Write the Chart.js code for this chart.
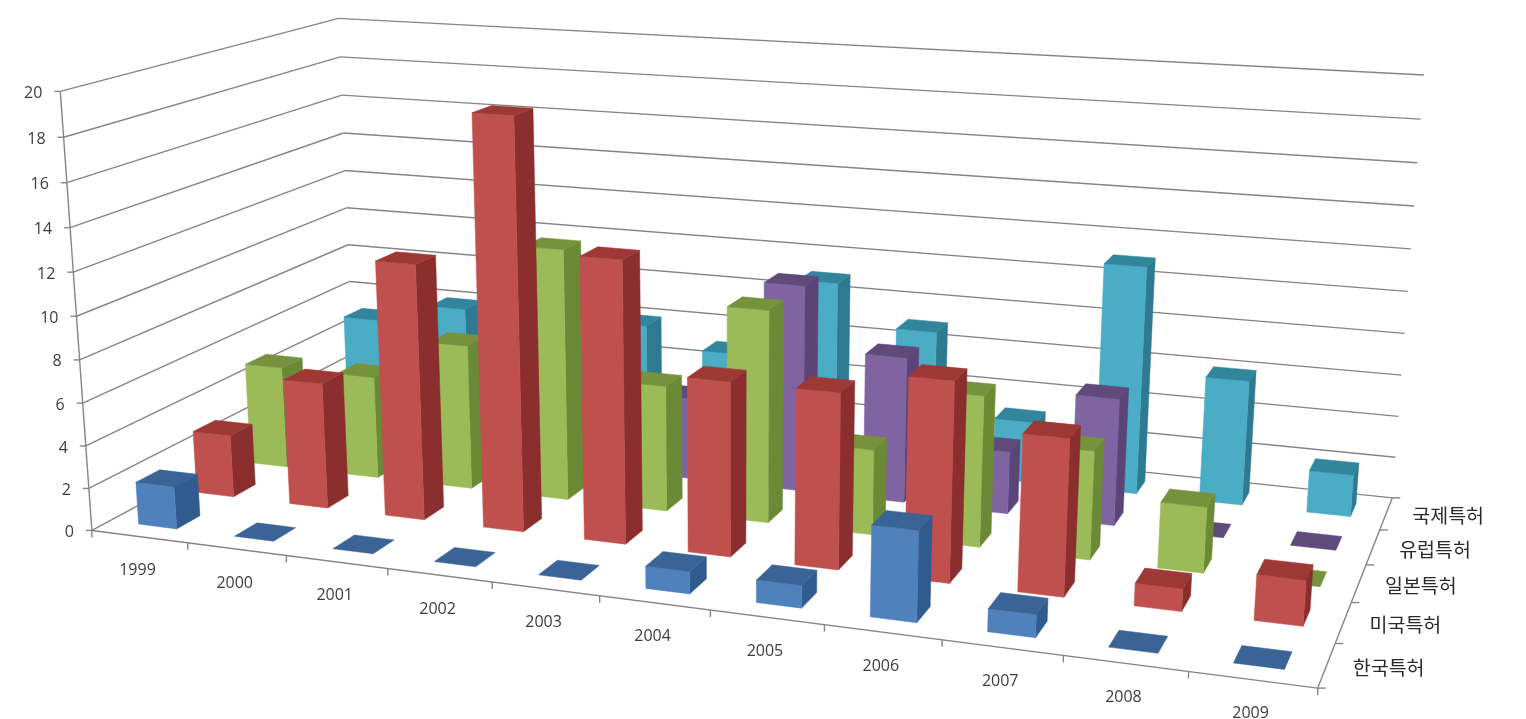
<!DOCTYPE html>
<html>
<head>
<meta charset="utf-8">
<script src="https://cdn.jsdelivr.net/npm/chart.js@4"></script>
<style>
  html, body { margin: 0; background: #fff; }
  #wrap { width: 1526px; height: 719px; }
</style>
</head>
<body>
<div id="wrap"><canvas id="chart1"></canvas></div>
<script>
const years = ['1999', '2000', '2001', '2002', '2003', '2004', '2005', '2006', '2007', '2008', '2009'];
const seriesNames = ['한국특허', '미국특허', '일본특허', '유럽특허', '국제특허'];

const koreaPatents  = [2, 0, 0, 0, 0, 1, 1, 4, 1, 0, 0];
const usPatents     = [3, 6, 12, 19, 13, 8, 8, 9, 7, 1, 2];
const japanPatents  = [5, 5, 7, 12, 6, 10, 4, 7, 5, 3, 0];
const europePatents = [0, 0, 0, 0, 4, 10, 7, 3, 6, 0, 0];
const intlPatents   = [5, 6, 0, 6, 5, 9, 7, 3, 11, 6, 2];

// front, top and side colour of each series
const faceColors = [
    ['#4f81bd', '#3a6496', '#2f5b8e'],
    ['#c0504d', '#9e3835', '#8a2f2d'],
    ['#9bbb59', '#76923c', '#6a8a35'],
    ['#8064a2', '#5f4a7a', '#5a4478'],
    ['#4bacc6', '#31859c', '#2e7a90']
];

// where the corners of the 3D box land on the page: [u, d, v, px, py]
const boxCorners = [
    [0, 0, 0, 91, 530],
    [1, 0, 0, 1318, 688],
    [1, 1, 0, 1392, 498],
    [0, 1, 0, 355, 390],
    [0, 0, 1, 61, 92],
    [0, 1, 1, 338, 18],
    [1, 1, 1, 1424, 75]
];

// Fit a camera matrix to the box corners (least squares on 11 unknowns)
function fitCamera(points) {
    var rows = [], rhs = [];
    points.forEach(function (p) {
        var x = p[3] / 1000, y = p[4] / 1000;
        rows.push([p[0], p[1], p[2], 1, 0, 0, 0, 0, -x * p[0], -x * p[1], -x * p[2]]);
        rhs.push(x);
        rows.push([0, 0, 0, 0, p[0], p[1], p[2], 1, -y * p[0], -y * p[1], -y * p[2]]);
        rhs.push(y);
    });
    var n = 11, m = [];
    for (var i = 0; i < n; i++) {
        m[i] = [];
        for (var j = 0; j < n; j++) {
            m[i][j] = rows.reduce((s, r) => s + r[i] * r[j], 0);
        }
        m[i][n] = rows.reduce((s, r, k) => s + r[i] * rhs[k], 0);
    }
    for (var c = 0; c < n; c++) {
        var best = c;
        for (var r = c + 1; r < n; r++) {
            if (Math.abs(m[r][c]) > Math.abs(m[best][c])) best = r;
        }
        var tmp = m[c]; m[c] = m[best]; m[best] = tmp;
        for (var r2 = 0; r2 < n; r2++) {
            if (r2 === c) continue;
            var f = m[r2][c] / m[c][c];
            for (var k = c; k <= n; k++) m[r2][k] -= f * m[c][k];
        }
    }
    return m.map((row, i) => row[n] / row[i]);
}

const cam = fitCamera(boxCorners);

function project(u, d, v) {
    var w = cam[8] * u + cam[9] * d + cam[10] * v + 1;
    return {
        x: 1000 * (cam[0] * u + cam[1] * d + cam[2] * v + cam[3]) / w,
        y: 1000 * (cam[4] * u + cam[5] * d + cam[6] * v + cam[7]) / w
    };
}

function line(ctx, a, b) {
    ctx.beginPath();
    ctx.moveTo(a.x, a.y);
    ctx.lineTo(b.x, b.y);
    ctx.stroke();
}

function quad(ctx, pts, color) {
    ctx.beginPath();
    pts.forEach((p, i) => i ? ctx.lineTo(p.x, p.y) : ctx.moveTo(p.x, p.y));
    ctx.closePath();
    ctx.fillStyle = color;
    ctx.strokeStyle = color;
    ctx.lineWidth = 0.5;
    ctx.fill();
    ctx.stroke();
}

// Walls, axes and labels: positions come from the chart scales, then go through the camera
const wallsPlugin = {
    id: 'walls',
    beforeDatasetsDraw(chart) {
        var ctx = chart.ctx, yScale = chart.scales.y, xScale = chart.scales.x, depth = chart.scales.depth;
        var area = chart.chartArea;
        ctx.save();
        ctx.strokeStyle = '#858585';
        ctx.lineWidth = 1.4;

        yScale.ticks.forEach(function (t) {
            var v = (area.bottom - yScale.getPixelForValue(t.value)) / area.height;
            var front = project(0, 0, v);
            line(ctx, front, project(0, 1, v));
            line(ctx, project(0, 1, v), project(1, 1, v));
            line(ctx, { x: front.x - 6, y: front.y }, front);
            ctx.fillStyle = '#3c3c3c';
            ctx.font = '16px "Open Sans"';
            ctx.textAlign = 'right';
            ctx.textBaseline = 'middle';
            ctx.fillText(t.label, front.x - 18, front.y + 2);
        });
        line(ctx, project(0, 0, 0), project(0, 0, 1));
        line(ctx, project(0, 0, 0), project(1, 0, 0));
        line(ctx, project(1, 0, 0), project(1, 1, 0));

        var slot = area.width / years.length;
        for (var i = 0; i <= years.length; i++) {
            var p = project(i * slot / area.width, 0, 0);
            line(ctx, p, { x: p.x, y: p.y + 7 });
        }
        years.forEach(function (label, i) {
            var p = project((xScale.getPixelForValue(i) - area.left) / area.width, 0, 0);
            ctx.fillStyle = '#3c3c3c';
            ctx.font = '16px "Open Sans"';
            ctx.textAlign = 'center';
            ctx.textBaseline = 'middle';
            ctx.fillText(label, p.x - 2, p.y + 34);
        });

        for (var j = 0; j <= seriesNames.length; j++) {
            var q = project(1, j / seriesNames.length, 0);
            line(ctx, q, { x: q.x + 8, y: q.y });
        }
        seriesNames.forEach(function (label, j) {
            var q = project(1, (depth.getPixelForValue(j) - area.left) / area.width, 0);
            ctx.fillStyle = '#2a2a2a';
            ctx.font = '19.5px "Noto Sans CJK KR"';
            ctx.textAlign = 'center';
            ctx.textBaseline = 'middle';
            ctx.fillText(label, q.x + 62, q.y + 2);
        });
        ctx.restore();
    }
};

// Draws each bar element as a box, back row first
const boxesPlugin = {
    id: 'boxes',
    afterDatasetsDraw(chart) {
        var ctx = chart.ctx, area = chart.chartArea, depth = chart.scales.depth;
        var halfDepth = 0.4 / seriesNames.length / 2;
        ctx.save();
        for (var s = seriesNames.length - 1; s >= 0; s--) {
            var colors = faceColors[s];
            var dMid = (depth.getPixelForValue(s) - area.left) / area.width;
            var d0 = dMid - halfDepth, d1 = dMid + halfDepth;
            chart.getDatasetMeta(s).data.forEach(function (bar) {
                var u0 = (bar.x - bar.width / 2 - area.left) / area.width;
                var u1 = (bar.x + bar.width / 2 - area.left) / area.width;
                var v = (area.bottom - bar.y) / area.height;
                var top = [project(u0, d0, v), project(u1, d0, v), project(u1, d1, v), project(u0, d1, v)];
                if (v > 0) {
                    quad(ctx, [project(u1, d0, 0), project(u1, d1, 0), top[2], top[1]], colors[2]);
                    quad(ctx, [project(u0, d0, 0), project(u1, d0, 0), top[1], top[0]], colors[0]);
                }
                quad(ctx, top, colors[1]);
            });
        }
        ctx.restore();
    }
};

const seriesValues = [koreaPatents, usPatents, japanPatents, europePatents, intlPatents];

new Chart(document.getElementById('chart1').getContext('2d'), {
    type: 'bar',
    data: {
        labels: years,
        datasets: seriesNames.map(function (name, i) {
            return {
                label: name,
                data: seriesValues[i],
                backgroundColor: 'rgba(0,0,0,0)',
                barPercentage: 0.4,
                categoryPercentage: 1,
                grouped: false,
                xAxisID: 'x',
                yAxisID: 'y'
            };
        })
    },
    options: {
        responsive: true,
        maintainAspectRatio: false,
        animation: false,
        plugins: { legend: { display: false }, tooltip: { enabled: false } },
        scales: {
            x: { display: false, offset: true },
            depth: { type: 'category', axis: 'x', labels: seriesNames, display: false, offset: true },
            y: { display: false, min: 0, max: 20, ticks: { stepSize: 2 } }
        }
    },
    plugins: [wallsPlugin, boxesPlugin]
});
</script>
</body>
</html>
